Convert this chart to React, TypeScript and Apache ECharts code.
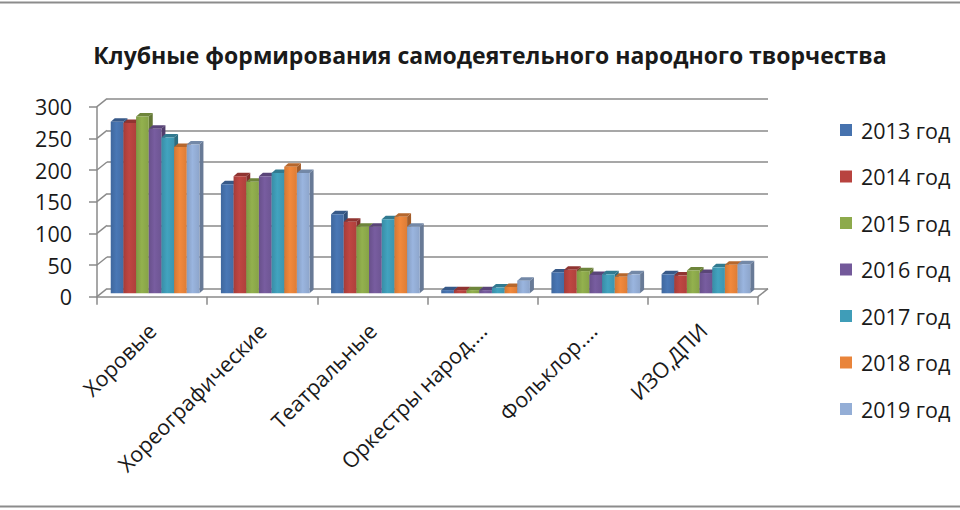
import React, { useEffect, useRef } from "react";
import * as echarts from "echarts";

const categories = [
  "Хоровые",
  "Хореографические",
  "Театральные",
  "Оркестры народ.…",
  "Фольклор.…",
  "ИЗО,ДПИ",
];
const years = ["2013 год", "2014 год", "2015 год", "2016 год", "2017 год", "2018 год", "2019 год"];
const values2013 = [271, 172, 125, 5, 33, 30];
const values2014 = [269, 185, 113, 5, 37, 28];
const values2015 = [279, 176, 105, 5, 35, 36];
const values2016 = [260, 185, 105, 5, 29, 32];
const values2017 = [246, 190, 117, 9, 30, 41];
const values2018 = [231, 200, 121, 10, 26, 45];
const values2019 = [235, 190, 105, 20, 30, 46];
const seriesValues = [values2013, values2014, values2015, values2016, values2017, values2018, values2019];
const yTicks = [0, 50, 100, 150, 200, 250, 300];
const colors = ["#4672AE", "#B8433F", "#8DAA4B", "#73599A", "#3F9DB8", "#E9843A", "#94AED6"];

const FONT = "'Open Sans', 'Noto Sans', sans-serif";
const GRID_COLOR = "#8A8A8A";

function shade(hex: string, f: number) {
  const n = parseInt(hex.slice(1), 16);
  const r = Math.min(255, Math.round(((n >> 16) & 255) * f));
  const g = Math.min(255, Math.round(((n >> 8) & 255) * f));
  const b = Math.min(255, Math.round((n & 255) * f));
  return `rgb(${r},${g},${b})`;
}

export default function App() {
  const ref = useRef<HTMLDivElement>(null);
  useEffect(() => {
    if (!ref.current) return;
    const chart = echarts.init(ref.current, undefined, { renderer: "svg" });
    const WALL_DX = 10;
    const WALL_DY = -8;
    const BAR_DX = 4;
    const BAR_DY = -3.5;
    const SHIFT_X = 3;
    const SHIFT_Y = -3.4;

    const barSeries = years.map((name, k) => ({
      name,
      type: "custom",
      xAxisIndex: 0,
      yAxisIndex: 0,
      itemStyle: { color: colors[k] },
      encode: { x: 0, y: 1 },
      z: 5,
      data: seriesValues[k].map((v, i) => [i, v]),
      renderItem: (params: any, api: any) => {
        const i = api.value(0);
        const v = api.value(1);
        const top = api.coord([i, v]);
        const base = api.coord([i, 0]);
        const catW = api.size([1, 0])[0];
        const bw = catW * 0.115;
        const x = base[0] - 3.5 * bw + k * bw + SHIFT_X;
        const yT = top[1] + SHIFT_Y;
        const yB = base[1] + SHIFT_Y;
        const c = colors[k];
        return {
          type: "group",
          children: [
            {
              type: "polygon",
              shape: {
                points: [
                  [x + bw, yT],
                  [x + bw + BAR_DX, yT + BAR_DY],
                  [x + bw + BAR_DX, yB + BAR_DY],
                  [x + bw, yB],
                ],
              },
              style: { fill: shade(c, 0.7) },
            },
            {
              type: "polygon",
              shape: {
                points: [
                  [x, yT],
                  [x + bw, yT],
                  [x + bw + BAR_DX, yT + BAR_DY],
                  [x + BAR_DX, yT + BAR_DY],
                ],
              },
              style: { fill: shade(c, 0.78) },
            },
            {
              type: "rect",
              shape: { x, y: yT, width: bw, height: Math.max(0, yB - yT) },
              style: {
                fill: new echarts.graphic.LinearGradient(0, 0, 1, 0, [
                  { offset: 0, color: shade(c, 0.9) },
                  { offset: 0.45, color: shade(c, 1.04) },
                  { offset: 1, color: shade(c, 0.95) },
                ]),
              },
            },
          ],
        };
      },
    }));

    const wallSeries = {
      type: "custom",
      name: "wall",
      xAxisIndex: 0,
      yAxisIndex: 0,
      silent: true,
      z: 1,
      encode: { x: 0, y: 1 },
      data: yTicks.map((v) => [0, v]),
      renderItem: (params: any, api: any) => {
        const v = api.value(1);
        const y = api.coord([0, v])[1];
        const cs = params.coordSys;
        const x0 = cs.x;
        const children: any[] = [
          {
            type: "line",
            shape: { x1: x0, y1: y, x2: x0 + WALL_DX, y2: y + WALL_DY },
            style: { stroke: GRID_COLOR, lineWidth: 1.5 },
          },
        ];
        if (v === 0) {
          const x1 = cs.x + cs.width;
          children.push({
            type: "line",
            shape: { x1, y1: y, x2: x1 + WALL_DX, y2: y + WALL_DY },
            style: { stroke: GRID_COLOR, lineWidth: 1.5 },
          });
        }
        return { type: "group", children };
      },
    };

    const option: any = {
      animation: false,
      backgroundColor: "#ffffff",
      legend: {
        data: years.map((name, k) => ({ name, icon: "rect", itemStyle: { color: colors[k] } })),
        orient: "vertical",
        left: 840,
        top: 118,
        padding: 0,
        itemWidth: 12,
        itemHeight: 12,
        itemGap: 22.5,
        selectedMode: false,
        textStyle: {
          fontFamily: FONT,
          fontSize: 21.5,
          color: "#1a1a1a",
          lineHeight: 24,
          padding: [0, 0, 0, 4],
        },
      },
      grid: [
        { left: 97, top: 106.7, width: 661, height: 190 },
        { left: 97 + WALL_DX, top: 106.7 + WALL_DY, width: 661, height: 190 },
      ],
      xAxis: [
        {
          type: "category",
          gridIndex: 0,
          data: categories,
          axisLine: { show: true, lineStyle: { color: GRID_COLOR, width: 1.5 } },
          axisTick: { show: true, length: 8, lineStyle: { color: GRID_COLOR, width: 1.5 } },
          axisLabel: {
            interval: 0,
            rotate: 45,
            margin: 30,
            fontFamily: FONT,
            fontSize: 21.5,
            color: "#1a1a1a",
          },
          splitLine: { show: false },
        },
        {
          type: "category",
          gridIndex: 1,
          data: categories,
          show: false,
        },
      ],
      yAxis: [
        {
          type: "value",
          gridIndex: 0,
          min: 0,
          max: 300,
          interval: 50,
          axisLine: { show: true, lineStyle: { color: GRID_COLOR, width: 1.5 } },
          axisTick: { show: true, length: 8, lineStyle: { color: GRID_COLOR, width: 1.5 } },
          axisLabel: { margin: 25, fontFamily: FONT, fontSize: 21.5, color: "#1a1a1a" },
          splitLine: { show: false },
        },
        {
          type: "value",
          gridIndex: 1,
          min: 0,
          max: 300,
          interval: 50,
          axisLine: { show: false },
          axisTick: { show: false },
          axisLabel: { show: false },
          splitLine: { show: true, lineStyle: { color: GRID_COLOR, width: 1.5 } },
        },
      ],
      graphic: [
        {
          type: "text",
          x: 490,
          y: 55,
          style: {
            text: "Клубные формирования самодеятельного народного творчества",
            align: "center",
            verticalAlign: "middle",
            fontFamily: FONT,
            fontWeight: "bold",
            fontSize: 23,
            fill: "#1a1a1a",
          },
        },
        {
          type: "line",
          shape: { x1: 0, y1: 2.5, x2: 960, y2: 2.5 },
          style: { stroke: "#8C8C8C", lineWidth: 2 },
        },
        {
          type: "line",
          shape: { x1: 0, y1: 506.5, x2: 960, y2: 506.5 },
          style: { stroke: "#8C8C8C", lineWidth: 2 },
        },
      ],
      series: [...barSeries, wallSeries],
    };
    chart.setOption(option);
    return () => chart.dispose();
  }, []);
  return (
    <div
      ref={ref}
      style={{ position: "absolute", left: 0, top: 0, width: 960, height: 510 }}
    />
  );
}
